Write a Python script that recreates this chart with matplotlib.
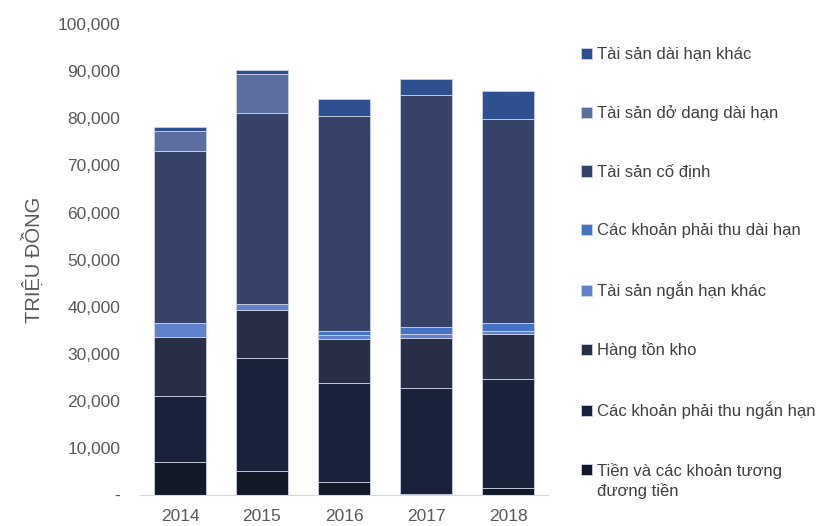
import numpy as np
import matplotlib.pyplot as plt

plt.rcParams['font.family'] = ['Liberation Sans', 'DejaVu Sans']

years = ['2014', '2015', '2016', '2017', '2018']

# Giá trị (triệu đồng), từ dưới lên
tien = [7000, 5100, 2800, 300, 1400]
phai_thu_ngan_han = [14100, 23900, 20900, 22350, 23150]
hang_ton_kho = [12500, 10300, 9400, 10750, 9700]
ts_ngan_han_khac = [2850, 1200, 900, 800, 550]
phai_thu_dai_han = [0, 100, 800, 1400, 1750]
ts_co_dinh = [36650, 40500, 45800, 49450, 43400]
ts_do_dang = [4150, 8350, 0, 0, 0]
ts_dai_han_khac = [1000, 800, 3550, 3300, 5800]

labels = ['Tiền và các khoản tương', 'Các khoản phải thu ngắn hạn',
          'Hàng tồn kho', 'Tài sản ngắn hạn khác', 'Các khoản phải thu dài hạn',
          'Tài sản cố định', 'Tài sản dở dang dài hạn', 'Tài sản dài hạn khác']
label_cont = 'đương tiền'
series = [tien, phai_thu_ngan_han, hang_ton_kho, ts_ngan_han_khac, phai_thu_dai_han,
          ts_co_dinh, ts_do_dang, ts_dai_han_khac]
colors = ['#111827', '#1a213a', '#292e47', '#6082cc', '#4472c4',
          '#374268', '#5c6da0', '#2e5090']

fig = plt.figure(figsize=(8.27, 5.26), dpi=100)
ax = fig.add_axes([0.169, 0.059, 0.494, 0.895])

x = np.arange(len(years))
bottom = np.zeros(len(years))
handles = []
for vals, lab, col in zip(series, labels, colors):
    b = ax.bar(x, vals, 0.63, bottom=bottom, color=col, label=lab,
               edgecolor='#ccd2e4', linewidth=0.6)
    handles.append(b)
    bottom += np.array(vals)

ax.set_xlim(-0.49, 4.49)
ax.set_ylim(0, 100000)
ax.set_yticks(np.arange(0, 100001, 10000))
ax.set_yticklabels(['-'] + [f'{v:,}' for v in range(10000, 100001, 10000)])
ax.set_xticks(x)
ax.set_xticklabels(years)
ax.tick_params(axis='both', length=0, labelsize=12.5, colors='#595959')
ax.tick_params(axis='y', pad=14)
ax.tick_params(axis='x', pad=10)
for s in ['top', 'right', 'left']:
    ax.spines[s].set_visible(False)
ax.spines['bottom'].set_color('#d9d9d9')
ax.set_ylabel('TRIỆU ĐỒNG', fontsize=14.5, color='#595959', labelpad=10)

leg = fig.legend(handles[::-1], labels[::-1], loc='upper left',
                 bbox_to_anchor=(0.684, 0.939), frameon=False, fontsize=12,
                 labelspacing=2.6, handlelength=0.65, handleheight=0.65,
                 handletextpad=0.3, labelcolor='#404040')

# second line of the last legend entry
fig.canvas.draw()
bb = leg.get_texts()[-1].get_window_extent().transformed(fig.transFigure.inverted())
fig.text(bb.x0, bb.y0 - 0.008, label_cont, fontsize=12, color='#404040',
         ha='left', va='top')

fig.savefig('out.png', dpi=100)
